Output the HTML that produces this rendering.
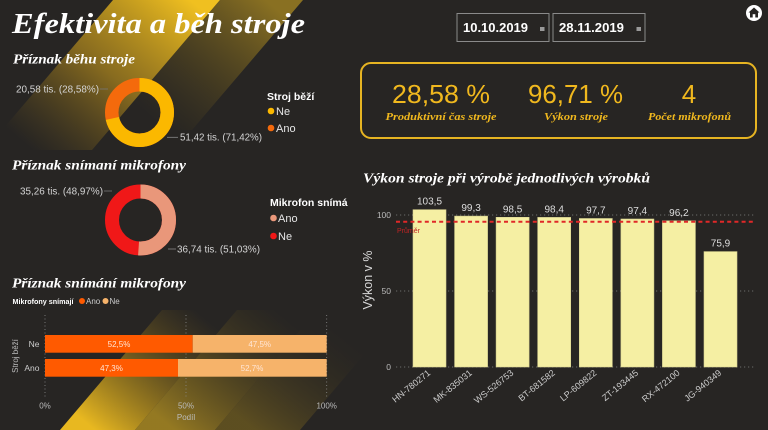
<!DOCTYPE html>
<html><head><meta charset="utf-8"><style>
html,body{margin:0;padding:0;background:#272523;}
svg{display:block;}
.serif{font-family:"Liberation Serif","DejaVu Serif",serif;font-weight:bold;font-style:italic;}
.sans{font-family:"Liberation Sans","DejaVu Sans",sans-serif;}
</style></head><body>
<svg width="768" height="430" viewBox="0 0 768 430" xmlns="http://www.w3.org/2000/svg">
<defs>
<linearGradient id="gA" gradientUnits="userSpaceOnUse" x1="190" y1="0" x2="50" y2="165">
<stop offset="0" stop-color="#f0c020" stop-opacity="1"/>
<stop offset="0.5" stop-color="#c89a1c" stop-opacity="0.6"/>
<stop offset="1" stop-color="#8a6a18" stop-opacity="0"/>
</linearGradient>
<linearGradient id="gB" gradientUnits="userSpaceOnUse" x1="265" y1="0" x2="160" y2="125">
<stop offset="0" stop-color="#8e7422" stop-opacity="0.95"/>
<stop offset="1" stop-color="#5a4a1c" stop-opacity="0"/>
</linearGradient>
<linearGradient id="gC" gradientUnits="userSpaceOnUse" x1="95" y1="430" x2="195" y2="310">
<stop offset="0" stop-color="#e8b820" stop-opacity="1"/>
<stop offset="1" stop-color="#8a6a18" stop-opacity="0"/>
</linearGradient>
<linearGradient id="gD" gradientUnits="userSpaceOnUse" x1="175" y1="430" x2="275" y2="310">
<stop offset="0" stop-color="#a08222" stop-opacity="0.9"/>
<stop offset="1" stop-color="#5a4a1c" stop-opacity="0"/>
</linearGradient>
<linearGradient id="gE" gradientUnits="userSpaceOnUse" x1="255" y1="430" x2="335" y2="330">
<stop offset="0" stop-color="#6a5820" stop-opacity="0.8"/>
<stop offset="1" stop-color="#3a3220" stop-opacity="0"/>
</linearGradient>
</defs>
<rect width="768" height="430" fill="#272523"/>
<!-- background bands -->
<polygon points="113,0 220,0 92,150 -15,150" fill="url(#gA)"/>
<polygon points="220,0 303,0 192,130 109,130" fill="url(#gB)"/>
<polygon points="60,430 135,430 237,310 162,310" fill="url(#gC)"/>
<polygon points="135,430 215,430 317,310 237,310" fill="url(#gD)"/>
<polygon points="215,430 300,430 385,330 300,330" fill="url(#gE)"/>

<!-- title -->
<text class="serif" x="12" y="33" font-size="28" fill="#ffffff" textLength="293" lengthAdjust="spacingAndGlyphs">Efektivita a běh stroje</text>

<!-- Section 1 -->
<text class="serif" x="13" y="63.5" font-size="14" fill="#ffffff" textLength="122" lengthAdjust="spacingAndGlyphs">Příznak běhu stroje</text>
<circle cx="139.5" cy="112.5" r="27.75" fill="none" stroke="#f46a0c" stroke-width="13.5"/>
<circle cx="139.5" cy="112.5" r="27.75" fill="none" stroke="#fbb800" stroke-width="13.5" stroke-dasharray="124.53 200" transform="rotate(-90 139.5 112.5)"/>
<text class="sans" x="16" y="92.5" font-size="10" fill="#d4d4d4" textLength="83" lengthAdjust="spacingAndGlyphs">20,58 tis. (28,58%)</text>
<line x1="100" y1="89" x2="108" y2="89" stroke="#777" stroke-width="0.8"/>
<line x1="167" y1="137.3" x2="178" y2="137.3" stroke="#888" stroke-width="0.8"/>
<text class="sans" x="180" y="140.5" font-size="10" fill="#d4d4d4" textLength="82" lengthAdjust="spacingAndGlyphs">51,42 tis. (71,42%)</text>
<text class="sans" x="267" y="100" font-size="10.5" font-weight="bold" fill="#ffffff">Stroj běží</text>
<circle cx="271" cy="111" r="3.3" fill="#fbb800"/>
<text class="sans" x="276" y="115" font-size="11" fill="#e6e6e6">Ne</text>
<circle cx="271" cy="128" r="3.3" fill="#f46a0c"/>
<text class="sans" x="276" y="132" font-size="11" fill="#e6e6e6">Ano</text>

<!-- Section 2 -->
<text class="serif" x="12" y="169.5" font-size="14" fill="#ffffff" textLength="174" lengthAdjust="spacingAndGlyphs">Příznak snímaní mikrofony</text>
<circle cx="140.5" cy="220" r="28.5" fill="none" stroke="#f01818" stroke-width="14"/>
<circle cx="140.5" cy="220" r="28.5" fill="none" stroke="#e9977a" stroke-width="14" stroke-dasharray="91.38 200" transform="rotate(-90 140.5 220)"/>
<text class="sans" x="20" y="194.5" font-size="10" fill="#d4d4d4" textLength="83" lengthAdjust="spacingAndGlyphs">35,26 tis. (48,97%)</text>
<line x1="104" y1="191" x2="112" y2="191" stroke="#777" stroke-width="0.8"/>
<line x1="168" y1="249" x2="176" y2="249" stroke="#888" stroke-width="0.8"/>
<text class="sans" x="177" y="252.5" font-size="10" fill="#d4d4d4" textLength="83" lengthAdjust="spacingAndGlyphs">36,74 tis. (51,03%)</text>
<text class="sans" x="270" y="206" font-size="10.5" font-weight="bold" fill="#ffffff">Mikrofon snímá</text>
<circle cx="273.5" cy="218" r="3.3" fill="#e9977a"/>
<text class="sans" x="278" y="222" font-size="11" fill="#e6e6e6">Ano</text>
<circle cx="273.5" cy="236" r="3.3" fill="#f01818"/>
<text class="sans" x="278" y="240" font-size="11" fill="#e6e6e6">Ne</text>

<!-- Section 3 -->
<text class="serif" x="12" y="287.5" font-size="14" fill="#ffffff" textLength="174" lengthAdjust="spacingAndGlyphs">Příznak snímání mikrofony</text>
<text class="sans" x="12.5" y="304" font-size="7.5" font-weight="bold" fill="#ffffff" textLength="61" lengthAdjust="spacingAndGlyphs">Mikrofony snímají</text>
<circle cx="82" cy="301" r="3" fill="#ff5a00"/>
<text class="sans" x="86" y="304" font-size="8" fill="#cccccc">Ano</text>
<circle cx="105.5" cy="301" r="3" fill="#f6b36a"/>
<text class="sans" x="109.5" y="304" font-size="8" fill="#cccccc">Ne</text>
<g stroke="#8a8a8a" stroke-width="0.8" stroke-dasharray="1 2.5">
<line x1="45" y1="315" x2="45" y2="397"/>
<line x1="186" y1="315" x2="186" y2="397"/>
<line x1="326.7" y1="315" x2="326.7" y2="397"/>
</g>
<rect x="45" y="335" width="147.7" height="17.7" fill="#ff5a00"/>
<rect x="192.7" y="335" width="134" height="17.7" fill="#f6b36a"/>
<rect x="45" y="359" width="133" height="17.7" fill="#ff5a00"/>
<rect x="178" y="359" width="148.7" height="17.7" fill="#f6b36a"/>
<g class="sans" font-size="8" fill="#ffe6d6" text-anchor="middle">
<text x="119" y="346.8">52,5%</text>
<text x="259.7" y="346.8">47,5%</text>
<text x="111.5" y="370.8">47,3%</text>
<text x="252" y="370.8">52,7%</text>
</g>
<g class="sans" font-size="8.5" fill="#cccccc" text-anchor="end">
<text x="39.5" y="347">Ne</text>
<text x="39.5" y="371">Ano</text>
</g>
<text class="sans" font-size="8" fill="#bbbbbb" text-anchor="middle" transform="translate(18 356) rotate(-90)">Stroj běží</text>
<g class="sans" font-size="8" fill="#bbbbbb" text-anchor="middle">
<text x="45" y="408.5">0%</text>
<text x="186" y="408.5">50%</text>
<text x="326.7" y="408.5">100%</text>
<text x="186" y="420">Podíl</text>
</g>

<!-- Date slicers -->
<rect x="457" y="13.5" width="92" height="28" fill="none" stroke="#8a8a8a" stroke-width="1"/>
<rect x="553" y="13.5" width="92" height="28" fill="none" stroke="#8a8a8a" stroke-width="1"/>
<text class="sans" x="463" y="32" font-size="13" font-weight="bold" fill="#ffffff" textLength="65" lengthAdjust="spacingAndGlyphs">10.10.2019</text>
<text class="sans" x="559" y="32" font-size="13" font-weight="bold" fill="#ffffff" textLength="65" lengthAdjust="spacingAndGlyphs">28.11.2019</text>
<rect x="540" y="27" width="4.5" height="4" fill="#999"/>
<rect x="636.5" y="27" width="4.5" height="4" fill="#999"/>

<!-- home icon -->
<circle cx="754" cy="13" r="8" fill="#ffffff"/>
<polygon points="754,7.5 759.5,12.5 758,12.5 758,17.5 750,17.5 750,12.5 748.5,12.5" fill="#272523"/>
<rect x="752.7" y="14.2" width="2.6" height="3.3" fill="#ffffff"/>

<!-- KPI card -->
<rect x="361" y="63" width="395" height="75" rx="10" ry="10" fill="none" stroke="#e6b422" stroke-width="2"/>
<g class="sans" font-size="26" fill="#f0b81e" text-anchor="middle">
<text x="441" y="103" textLength="98" lengthAdjust="spacingAndGlyphs">28,58 %</text>
<text x="575.5" y="103" textLength="95" lengthAdjust="spacingAndGlyphs">96,71 %</text>
<text x="689" y="103">4</text>
</g>
<g class="serif" font-size="10.5" fill="#f0b81e" text-anchor="middle">
<text x="441" y="120" textLength="111" lengthAdjust="spacingAndGlyphs">Produktivní čas stroje</text>
<text x="576" y="120" textLength="64" lengthAdjust="spacingAndGlyphs">Výkon stroje</text>
<text x="689.5" y="120" textLength="83" lengthAdjust="spacingAndGlyphs">Počet mikrofonů</text>
</g>

<!-- Bar chart -->
<text class="serif" x="363" y="182.5" font-size="14" fill="#ffffff" textLength="287" lengthAdjust="spacingAndGlyphs">Výkon stroje při výrobě jednotlivých výrobků</text>
<g stroke="#6a6a6a" stroke-width="0.9" stroke-dasharray="1.2 2.8">
<line x1="396" y1="215" x2="756" y2="215"/>
<line x1="396" y1="291" x2="756" y2="291"/>
<line x1="396" y1="367" x2="756" y2="367"/>
</g>
<g class="sans" font-size="8.5" fill="#bbbbbb" text-anchor="end">
<text x="391" y="218">100</text>
<text x="391" y="294">50</text>
<text x="391" y="370">0</text>
</g>
<text class="sans" font-size="12.5" fill="#d8d8d8" text-anchor="middle" transform="translate(372 280) rotate(-90)">Výkon v %</text>
<g fill="#f5efa3" stroke="#d8d290" stroke-width="0.6">
<rect x="413" y="209.7" width="33" height="157.3"/>
<rect x="454.6" y="216.1" width="33" height="150.9"/>
<rect x="496.1" y="217.3" width="33" height="149.7"/>
<rect x="537.7" y="217.4" width="33" height="149.6"/>
<rect x="579.3" y="218.5" width="33" height="148.5"/>
<rect x="620.9" y="219.0" width="33" height="148.0"/>
<rect x="662.4" y="220.8" width="33" height="146.2"/>
<rect x="704.0" y="251.6" width="33" height="115.4"/>
</g>
<line x1="396" y1="221.7" x2="756" y2="221.7" stroke="#e02828" stroke-width="2" stroke-dasharray="4 3.2"/>
<text class="sans" x="397" y="233" font-size="7" fill="#c02424">Průměr</text>
<g class="sans" font-size="10" fill="#dddddd" text-anchor="middle">
<text x="429.5" y="204.7">103,5</text>
<text x="471.1" y="211.1">99,3</text>
<text x="512.6" y="212.3">98,5</text>
<text x="554.2" y="212.4">98,4</text>
<text x="595.8" y="213.5">97,7</text>
<text x="637.4" y="214">97,4</text>
<text x="678.9" y="215.8">96,2</text>
<text x="720.5" y="246.6">75,9</text>
</g>
<g class="sans" font-size="9" fill="#cccccc" text-anchor="end">
<text transform="translate(431 374) rotate(-39)">HN-780271</text>
<text transform="translate(472.6 374) rotate(-39)">MK-835031</text>
<text transform="translate(514.1 374) rotate(-39)">WS-526753</text>
<text transform="translate(555.7 374) rotate(-39)">BT-681582</text>
<text transform="translate(597.3 374) rotate(-39)">LP-609822</text>
<text transform="translate(638.9 374) rotate(-39)">ZT-193445</text>
<text transform="translate(680.4 374) rotate(-39)">RX-472100</text>
<text transform="translate(722 374) rotate(-39)">JG-940349</text>
</g>
</svg>
</body></html>
